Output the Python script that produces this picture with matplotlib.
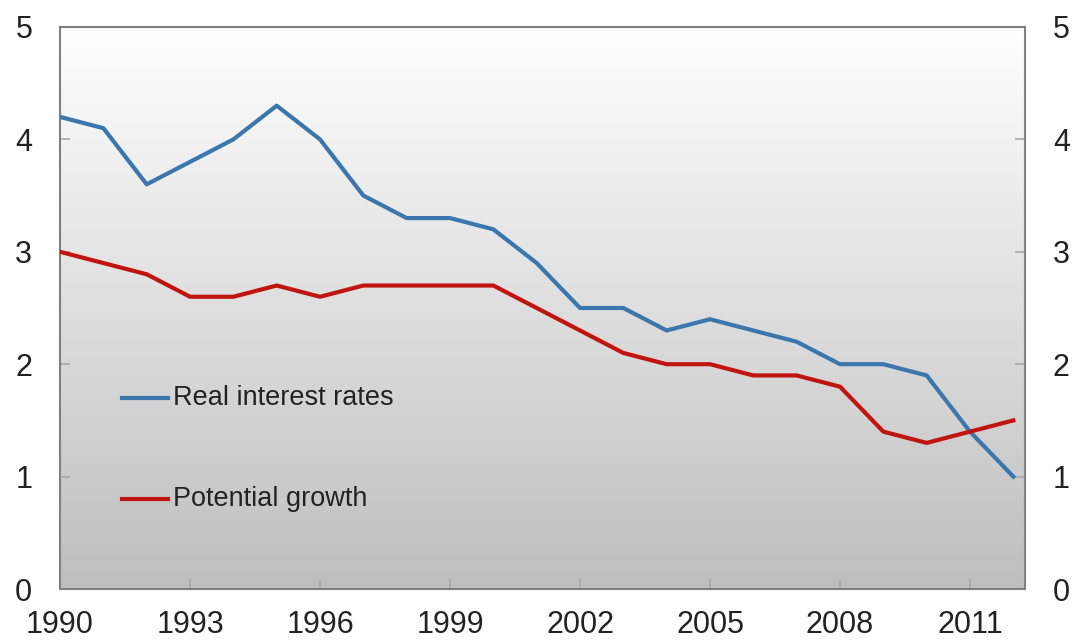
import numpy as np
import matplotlib.pyplot as plt
from matplotlib.colors import LinearSegmentedColormap

plt.rcParams['font.family'] = ['Liberation Sans', 'DejaVu Sans']

# Du lieu doc tu hinh
years = list(range(1990, 2013))
real_rates = [4.2, 4.1, 3.6, 3.8, 4.0, 4.3, 4.0, 3.5, 3.3, 3.3, 3.2, 2.9,
              2.5, 2.5, 2.3, 2.4, 2.3, 2.2, 2.0, 2.0, 1.9, 1.4, 1.0]
pot_growth = [3.0, 2.9, 2.8, 2.6, 2.6, 2.7, 2.6, 2.7, 2.7, 2.7, 2.7, 2.5,
              2.3, 2.1, 2.0, 2.0, 1.9, 1.9, 1.8, 1.4, 1.3, 1.4, 1.5]
xticks = [1990, 1993, 1996, 1999, 2002, 2005, 2008, 2011]
yticks = [0, 1, 2, 3, 4, 5]

blue = '#3b77ad'
red = '#c0140f'

fig = plt.figure(figsize=(10.74, 6.41), dpi=100)
ax = fig.add_axes([0.0559, 0.0811, 0.8985, 0.8768])

xmin, xmax = 1990, 2012.27

# Nen chuyen mau trang (tren) -> xam (duoi)
cmap = LinearSegmentedColormap.from_list('bg', ['#ffffff', '#bebebe'])
grad = np.linspace(0, 1, 256).reshape(-1, 1)
ax.imshow(grad, cmap=cmap, extent=[xmin, xmax, 0, 5], origin='upper',
          aspect='auto', zorder=0)
ax.set_xlim(xmin, xmax)
ax.set_ylim(0, 5)

ax.plot(years, real_rates, color=blue, lw=3, zorder=3)
ax.plot(years, pot_growth, color=red, lw=3, zorder=3)

# Chu thich
ax.plot([1991.43, 1992.5], [1.7, 1.7], color=blue, lw=3, zorder=3)
ax.text(1992.6, 1.7, 'Real interest rates', fontsize=19.5, va='center', color='#222222')
ax.plot([1991.43, 1992.5], [0.8, 0.8], color=red, lw=3, zorder=3)
ax.text(1992.6, 0.8, 'Potential growth', fontsize=19.5, va='center', color='#222222')

for s in ax.spines.values():
    s.set_color('#808080')
    s.set_linewidth(1.5)

ax.set_xticks(xticks)
ax.set_yticks(yticks)
ax.tick_params(axis='both', direction='in', color='#a8a8a8', length=7, width=1.2,
               labelsize=22, labelcolor='#222222')
ax.tick_params(axis='y', right=True, labelright=True, pad=20)
ax.tick_params(axis='x', pad=15)

fig.savefig('out.png', dpi=100)
